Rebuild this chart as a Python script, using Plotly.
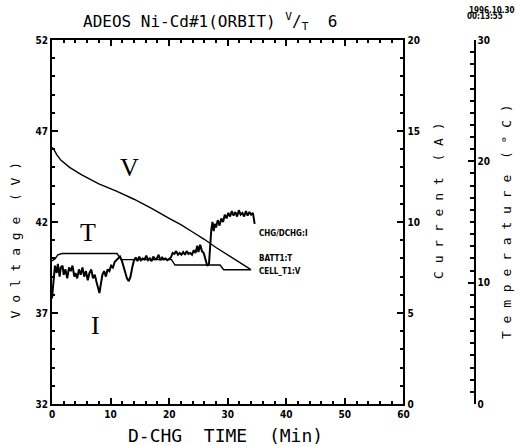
import plotly.graph_objects as go

# ---------------- data ----------------
v_time = [0, 0.3, 0.8, 1.5, 3, 5, 8, 11, 14, 17, 20, 22, 24, 26, 28, 30, 32, 33.9]
v_volt = [46.1, 46.0, 45.7, 45.4, 45.0, 44.6, 44.1, 43.7, 43.25, 42.75, 42.2, 41.85,
          41.45, 41.05, 40.6, 40.2, 39.8, 39.4]

t_time = [0, 0.5, 1.0, 1.7, 11.1, 11.8, 20.4, 21.0, 28.7, 29.3, 34.0]
t_temp = [11.8, 11.95, 12.3, 12.4, 12.4, 11.9, 11.9, 11.45, 11.45, 11.07, 11.07]

i_time = [0.0, 0.15, 0.3, 0.5, 0.8, 1.0, 1.3, 1.5, 1.8, 2.0, 2.3, 2.6, 2.9, 3.2, 3.5,
          3.8, 4.0, 4.3, 4.6, 4.9, 5.2, 5.5, 5.8, 6.1, 6.4, 6.7, 7.0, 7.3, 7.6, 7.9,
          8.1, 8.3, 8.6, 8.9, 9.2, 9.5, 9.8, 10.1, 10.4, 10.7, 11.0, 11.3, 11.6, 11.9,
          12.2, 12.5, 12.8, 13.1, 13.4, 13.7, 14.0, 14.3, 14.6, 14.9, 15.2, 15.5, 15.8,
          16.1, 16.4, 16.7, 17.0, 17.3, 17.6, 17.9, 18.2, 18.5, 18.8, 19.1, 19.4, 19.7,
          20.0, 20.3, 20.6, 20.9, 21.2, 21.5, 21.8, 22.1, 22.4, 22.7, 23.0, 23.3, 23.6,
          23.9, 24.2, 24.5, 24.8, 25.0, 25.3, 25.6, 25.9, 26.2, 26.5, 26.8, 27.0, 27.2,
          27.4, 27.6, 27.8, 28.0, 28.3, 28.6, 28.9, 29.2, 29.5, 29.8, 30.1, 30.4, 30.7,
          31.0, 31.3, 31.6, 31.9, 32.2, 32.5, 32.8, 33.1, 33.4, 33.7, 34.0, 34.3, 34.5,
          34.6]
i_curr = [5.8, 6.4, 7.3, 7.6, 7.2, 7.7, 7.0, 7.5, 7.6, 7.1, 7.4, 6.9, 7.5, 7.3, 7.6,
          7.0, 7.2, 6.9, 7.4, 7.1, 7.5, 7.0, 7.3, 6.8, 7.2, 7.4, 6.9, 7.1, 6.7, 6.3,
          6.1, 6.5, 7.1, 7.3, 7.0, 7.4, 7.3, 7.6, 7.5, 7.8, 7.9, 8.0, 8.1, 7.9,
          7.6, 7.2, 6.9, 6.75, 7.0, 7.5, 7.9, 8.05, 7.85, 8.1, 7.9, 8.0, 7.95,
          8.15, 7.9, 8.0, 7.85, 8.1, 7.95, 8.0, 8.2, 7.9, 8.05, 7.95, 8.0, 7.9,
          8.0, 8.05, 8.3, 8.25, 8.4, 8.2, 8.3, 8.2, 8.35, 8.2, 8.4, 8.25, 8.3,
          8.2, 8.45, 8.3, 8.7, 8.35, 8.75, 8.4, 8.3, 7.9, 7.6, 7.7, 8.9, 9.6,
          10.0, 9.5, 9.9, 9.7, 10.1, 9.8, 10.2, 10.0, 10.4, 10.2, 10.5, 10.3, 10.6,
          10.35, 10.55, 10.3, 10.65, 10.4, 10.5, 10.3, 10.6, 10.35, 10.55, 10.4, 10.5, 10.1,
          9.9]

x_ticks = [0, 10, 20, 30, 40, 50, 60]
v_ticks = [32, 37, 42, 47, 52]
i_ticks = [0, 5, 10, 15, 20]
temp_ticks = [0, 10, 20, 30]

title_text = "ADEOS Ni-Cd#1(ORBIT) <sup>V</sup>/<sub>T</sub>  6"

# ---------------- layout geometry (pixels) ----------------
W, H = 521, 446
L, R, T, B = 52, 408, 40, 404
PW = W - L


def px(x):
    return (x - L) / PW


def py(y):
    return (B - y) / (B - T)


tick_font = dict(family="DejaVu Sans Condensed, DejaVu Sans", size=10, color="black", weight="bold")
lab_font = dict(family="DejaVu Sans Mono", size=13, color="black")

fig = go.Figure()
fig.add_trace(go.Scatter(x=v_time, y=v_volt, mode="lines", line=dict(color="black", width=1.4),
                         yaxis="y", showlegend=False))
fig.add_trace(go.Scatter(x=i_time, y=i_curr, mode="lines", line=dict(color="black", width=2),
                         yaxis="y2", showlegend=False))
fig.add_trace(go.Scatter(x=t_time, y=t_temp, mode="lines", line=dict(color="black", width=1.4),
                         yaxis="y3", showlegend=False))

axis_common = dict(showline=True, linecolor="black", linewidth=2, ticks="inside",
                   tickcolor="black", tickwidth=1.5, showgrid=False, zeroline=False,
                   tickfont=tick_font)

fig.update_layout(
    width=W, height=H,
    margin=dict(l=L, r=0, t=T, b=H - B),
    paper_bgcolor="white", plot_bgcolor="white",
    xaxis=dict(domain=[0, px(R)], range=[0, 60], tickvals=x_ticks, ticklen=6,
               mirror="ticks", minor=dict(dtick=2, ticks="inside", ticklen=3, tickcolor="black"),
               **axis_common),
    yaxis=dict(range=[32, 52], tickvals=v_ticks, ticklen=6,
               minor=dict(dtick=1, ticks="inside", ticklen=3, tickcolor="black"),
               **axis_common),
    yaxis2=dict(range=[0, 20], tickvals=i_ticks, overlaying="y", side="right", anchor="x",
                ticklen=6, minor=dict(dtick=1, ticks="inside", ticklen=3, tickcolor="black"),
                **axis_common),
    yaxis3=dict(range=[0, 30], tickvals=temp_ticks, overlaying="y", side="right",
                anchor="free", position=px(480), ticklen=6,
                minor=dict(dtick=1, ticks="inside", ticklen=4, tickcolor="black"),
                **axis_common),
)


def note(x, y, text, font, angle=0, xanchor="center"):
    return dict(x=px(x), y=py(y), xref="paper", yref="paper", text=text, showarrow=False,
                xanchor=xanchor, yanchor="middle", textangle=angle, font=font)


ann = []
ann.append(note(212, 22, title_text, dict(family="DejaVu Sans Mono", size=16, color="black")))
date_font = dict(family="DejaVu Sans Condensed", size=8, color="black", weight="bold")
ann.append(note(472, 10, "1996.10.30", date_font, xanchor="left"))
ann.append(note(470, 16, "00:13:55", date_font, xanchor="left"))
ann.append(note(228, 436, "D-CHG  TIME  (Min)", dict(family="DejaVu Sans Mono", size=18, color="black")))
ann.append(note(15, 240, "V o l t a g e  ( V )", lab_font, angle=-90))
ann.append(note(443, 200, "C u r r e n t  ( A )", lab_font, angle=-90))
ann.append(note(512, 222, "T e m p e r a t u r e  ( ° C )", lab_font, angle=-90))
serif = dict(family="Liberation Serif, DejaVu Serif", size=26, color="black")
ann.append(note(131, 167, "V", serif))
ann.append(note(88, 232, "T", serif))
ann.append(note(96, 325, "I", serif))
small = dict(family="DejaVu Sans Condensed", size=8, color="black", weight="bold")
for txt, yy in [("CHG/DCHG:I", 233), ("BATT1:T", 258), ("CELL_T1:V", 271)]:
    ann.append(note(260, yy, txt, small, xanchor="left"))

fig.update_layout(annotations=ann)
fig.write_html("out.html")
